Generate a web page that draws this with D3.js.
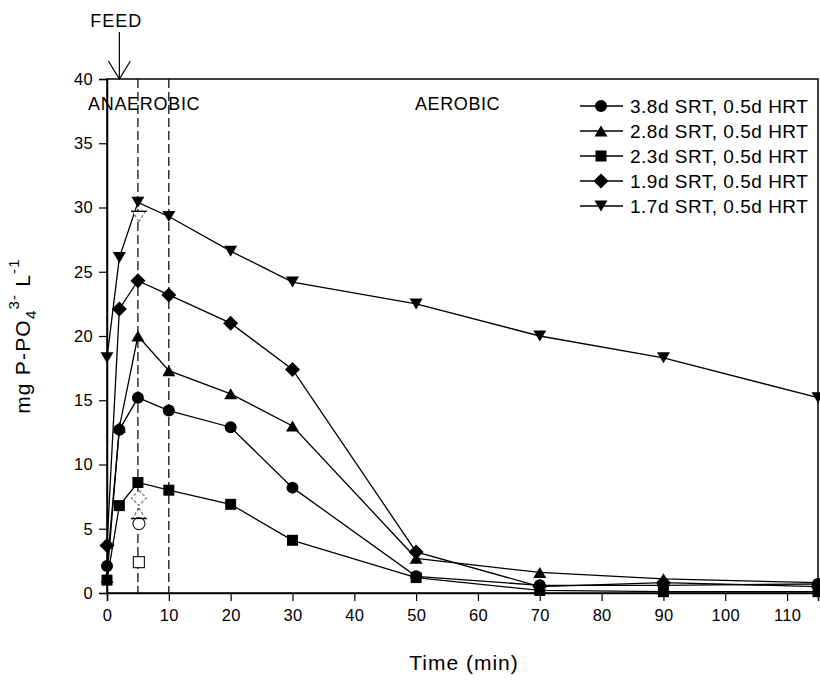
<!DOCTYPE html>
<html>
<head>
<meta charset="utf-8">
<script src="https://cdn.jsdelivr.net/npm/d3@7"></script>
<style>
  html, body { margin: 0; padding: 0; background: #fff; }
  svg text { font-family: Arial, "Liberation Sans", sans-serif; fill: #000; }
</style>
</head>
<body>
<div id="chart"></div>
<script>
// sampling times (min)
const times = [0, 2, 5, 10, 20, 30, 50, 70, 90, 115];

// P-PO4 (mg/L) for each SRT
const srt38 = [2.1, 12.7, 15.2, 14.2, 12.9, 8.2, 1.3, 0.6, 0.6, 0.7];
const srt28 = [1.2, 12.9, 20.0, 17.3, 15.5, 13.0, 2.7, 1.6, 1.1, 0.8];
const srt23 = [1.0, 6.8, 8.6, 8.0, 6.9, 4.1, 1.2, 0.2, 0.1, 0.1];
const srt19 = [3.7, 22.1, 24.3, 23.2, 21.0, 17.4, 3.2, 0.5, 0.8, 0.5];
const srt17 = [18.3, 26.1, 30.4, 29.3, 26.6, 24.2, 22.5, 20.0, 18.3, 15.2];

const seriesLabels = ["3.8d SRT, 0.5d HRT", "2.8d SRT, 0.5d HRT", "2.3d SRT, 0.5d HRT", "1.9d SRT, 0.5d HRT", "1.7d SRT, 0.5d HRT"];
const seriesShapes = ["circle", "triUp", "square", "diamond", "triDown"];

// open (unfilled) points measured at 5 min
const openTime = 5;
const openShapes = ["triDown", "diamond", "triUp", "circle", "square"];
const openValues = [29.3, 7.4, 6.2, 5.4, 2.4];
const openCaps = [29.7, 5.8];   // error bar caps at 5 min

// phase markers
const feedTime = 2;
const phaseLines = [5, 10];

const xTicks = [0, 10, 20, 30, 40, 50, 60, 70, 80, 90, 100, 110];
const yTicks = [0, 5, 10, 15, 20, 25, 30, 35, 40];

const W = 820, H = 680;
const pLeft = 107, pRight = 818, pTop = 79, pBottom = 593;

const svg = d3.select("#chart").append("svg")
    .attr("width", W).attr("height", H);

const x = d3.scaleLinear().domain([0, 115]).range([pLeft, pRight]);
const y = d3.scaleLinear().domain([0, 40]).range([pBottom, pTop]);

// marker path, centred on its bounding box
function shapePath(kind) {
    switch (kind) {
        case "circle": return d3.symbol(d3.symbolCircle, Math.PI * 6 * 6)();
        case "square": return "M-5.5,-5.5H5.5V5.5H-5.5Z";
        case "diamond": return "M0,-7.5L7.5,0L0,7.5L-7.5,0Z";
        case "triUp": return "M0,-5.5L6.5,5.5L-6.5,5.5Z";
        case "triDown": return "M0,5.5L6.5,-5.5L-6.5,-5.5Z";
    }
}

// dashed phase lines
svg.selectAll(".phase").data(phaseLines).enter().append("line")
    .attr("x1", d => x(d)).attr("x2", d => x(d))
    .attr("y1", pTop).attr("y2", pBottom)
    .attr("stroke", "#000").attr("stroke-width", 1.2)
    .attr("stroke-dasharray", "9,4");

// frame
svg.append("rect")
    .attr("x", pLeft).attr("y", pTop)
    .attr("width", pRight - pLeft).attr("height", pBottom - pTop)
    .attr("fill", "none").attr("stroke", "#000").attr("stroke-width", 1.5);

// axes
const xAxis = svg.append("g").attr("transform", `translate(0,${pBottom})`)
    .call(d3.axisBottom(x).tickValues(xTicks).tickSize(8).tickPadding(8));
const yAxis = svg.append("g").attr("transform", `translate(${pLeft},0)`)
    .call(d3.axisLeft(y).tickValues(yTicks).tickSize(8).tickPadding(6));
[xAxis, yAxis].forEach(a => {
    a.select(".domain").attr("stroke-width", 1.5);
    a.selectAll(".tick line").attr("stroke-width", 1.2);
    a.selectAll("text").style("font-size", "16.5px").style("letter-spacing", "0.3px")
        .style("font-family", "Arial, 'Liberation Sans', sans-serif");
});

// series
const allSeries = [srt38, srt28, srt23, srt19, srt17];
const line = d3.line().x((d, i) => x(times[i])).y(d => y(d));

allSeries.forEach((vals, s) => {
    svg.append("path").datum(vals)
        .attr("d", line)
        .attr("fill", "none").attr("stroke", "#000").attr("stroke-width", 1.3);
});
allSeries.forEach((vals, s) => {
    svg.selectAll(null).data(vals).enter().append("path")
        .attr("d", shapePath(seriesShapes[s]))
        .attr("transform", (d, i) => `translate(${x(times[i])},${y(d)})`)
        .attr("fill", "#000");
});

// open points at 5 min
svg.selectAll(".open").data(openValues).enter().append("path")
    .attr("d", (d, i) => shapePath(openShapes[i]))
    .attr("transform", d => `translate(${x(openTime) + 1},${y(d)})`)
    .attr("fill", "#fff")
    .attr("stroke", (d, i) => i < 3 ? "#777" : "#222")
    .attr("stroke-width", 1.2)
    .attr("stroke-dasharray", (d, i) => i < 3 ? "3,2" : null);
svg.selectAll(".cap").data(openCaps).enter().append("line")
    .attr("x1", x(openTime) - 7).attr("x2", x(openTime) + 9)
    .attr("y1", d => y(d)).attr("y2", d => y(d))
    .attr("stroke", "#000").attr("stroke-width", 1.3);

// phase labels
svg.append("text").attr("x", 88).attr("y", 110)
    .style("font-size", "18px").style("letter-spacing", "0.7px").text("ANAEROBIC");
svg.append("text").attr("x", 415).attr("y", 110)
    .style("font-size", "18px").style("letter-spacing", "0.6px").text("AEROBIC");

// FEED arrow
const fx = x(feedTime);
svg.append("text").attr("x", fx - 29).attr("y", 27)
    .style("font-size", "18px").style("letter-spacing", "1px").text("FEED");
svg.append("line").attr("x1", fx).attr("x2", fx).attr("y1", 32).attr("y2", pTop)
    .attr("stroke", "#000").attr("stroke-width", 1.2);
svg.append("path")
    .attr("d", `M${fx - 11},${pTop - 18}L${fx},${pTop}L${fx + 11},${pTop - 18}`)
    .attr("fill", "none").attr("stroke", "#000").attr("stroke-width", 1.2);

// legend
const legend = svg.append("g");
seriesLabels.forEach((lab, i) => {
    const ly = 106 + i * 25;
    legend.append("line").attr("x1", 580).attr("x2", 623).attr("y1", ly).attr("y2", ly)
        .attr("stroke", "#000").attr("stroke-width", 1.3);
    legend.append("path").attr("d", shapePath(seriesShapes[i]))
        .attr("transform", `translate(601,${ly})`).attr("fill", "#000");
    legend.append("text").attr("x", 630).attr("y", ly).attr("dy", "0.35em")
        .style("font-size", "19px").style("letter-spacing", "0.5px").text(lab);
});

// axis titles
svg.append("text").attr("x", 464).attr("y", 670)
    .attr("text-anchor", "middle").style("font-size", "21px").style("letter-spacing", "1px")
    .text("Time (min)");

const yt = svg.append("text")
    .attr("transform", `translate(30,${(pTop + pBottom) / 2}) rotate(-90)`)
    .attr("text-anchor", "middle").style("font-size", "21px").style("letter-spacing", "1.2px");
yt.append("tspan").text("mg P-PO");
yt.append("tspan").attr("dy", 6).style("font-size", "15px").text("4");
yt.append("tspan").attr("dy", -17).style("font-size", "15px").text("3-");
yt.append("tspan").attr("dy", 11).text(" L");
yt.append("tspan").attr("dy", -11).style("font-size", "15px").text("-1");
</script>
</body>
</html>
